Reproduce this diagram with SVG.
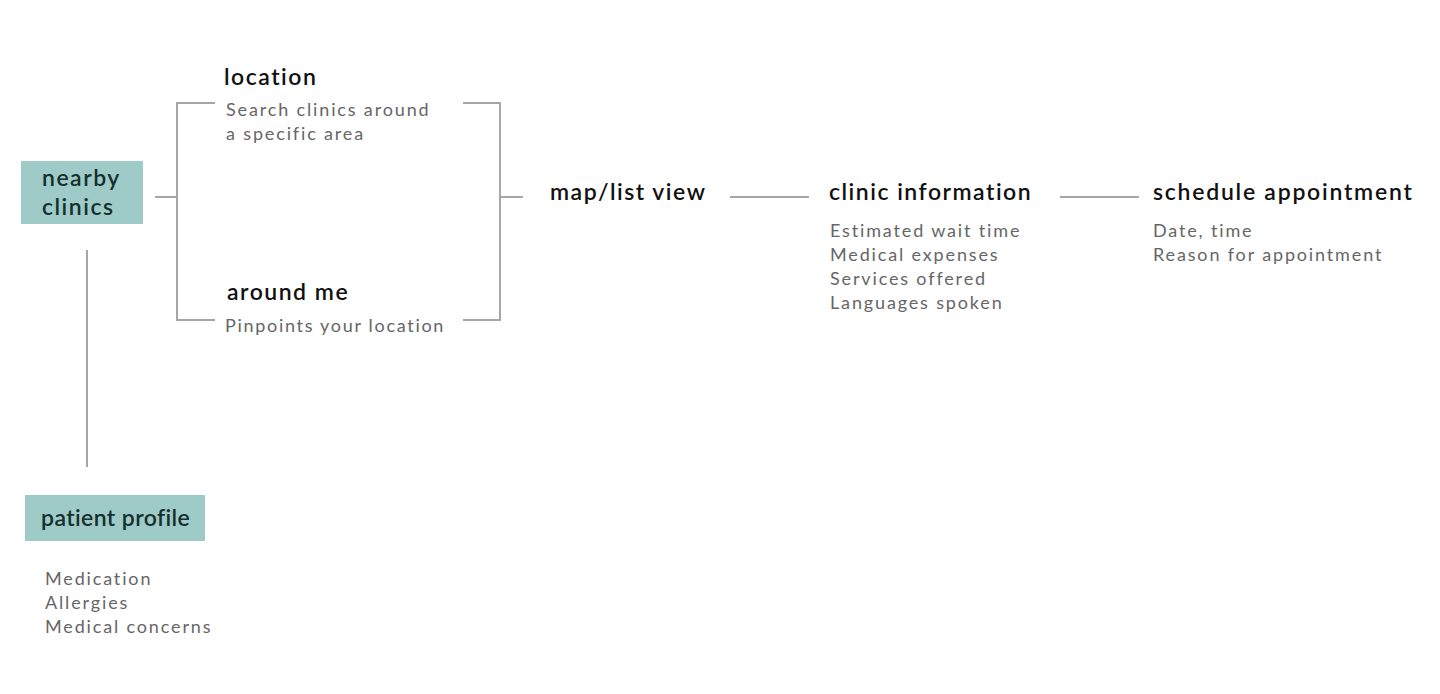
<svg xmlns="http://www.w3.org/2000/svg" width="1440" height="694" viewBox="0 0 1440 694">
<style>
.box{fill:#9ecac7}
.h{font-family:Lato,"Liberation Sans",sans-serif;font-size:23px;font-weight:600;fill:#111;letter-spacing:1.5px}
.bh{font-family:Lato,"Liberation Sans",sans-serif;font-size:23px;font-weight:600;fill:#15302e;letter-spacing:1.5px}
.pp{letter-spacing:0.4px}
.s{font-family:Lato,"Liberation Sans",sans-serif;font-size:18px;fill:#666;letter-spacing:1.85px}
.ln{stroke:#a6a6a6;stroke-width:2;fill:none}
</style>
<rect width="1440" height="694" fill="#fff"/>
<g id="connectors">
<line class="ln" x1="87" y1="250" x2="87" y2="467"/>
<line class="ln" x1="155" y1="197" x2="177" y2="197"/>
<polyline class="ln" points="215,103 177,103 177,320 215,320"/>
<polyline class="ln" points="463,103 500,103 500,320 463,320"/>
<line class="ln" x1="500" y1="197" x2="523" y2="197"/>
<line class="ln" x1="730" y1="197" x2="809" y2="197"/>
<line class="ln" x1="1060" y1="197" x2="1139" y2="197"/>
</g>
<g id="nearby-clinics">
<rect class="box" x="21" y="161" width="122" height="63"/>
<text class="bh" x="42" y="186">nearby</text>
<text class="bh" x="42" y="215">clinics</text>
</g>
<g id="location">
<text class="h" x="224" y="85">location</text>
<text class="s" x="226" y="116">Search clinics around</text>
<text class="s" x="226" y="140">a specific area</text>
</g>
<g id="around-me">
<text class="h" x="227" y="300">around me</text>
<text class="s" x="225" y="332" style="letter-spacing:1.7px">Pinpoints your location</text>
</g>
<g id="map-list-view">
<text class="h" x="550" y="200">map/list view</text>
</g>
<g id="clinic-information">
<text class="h" x="829" y="200">clinic information</text>
<text class="s" x="830" y="237">Estimated wait time</text>
<text class="s" x="830" y="261">Medical expenses</text>
<text class="s" x="830" y="285">Services offered</text>
<text class="s" x="830" y="309">Languages spoken</text>
</g>
<g id="schedule-appointment">
<text class="h" x="1153" y="200" style="letter-spacing:1.75px">schedule appointment</text>
<text class="s" x="1153" y="237">Date, time</text>
<text class="s" x="1153" y="261">Reason for appointment</text>
</g>
<g id="patient-profile">
<rect class="box" x="25" y="495" width="180" height="46"/>
<text class="bh pp" x="41" y="526">patient profile</text>
<text class="s" x="45" y="585">Medication</text>
<text class="s" x="45" y="609">Allergies</text>
<text class="s" x="45" y="633">Medical concerns</text>
</g>
</svg>
